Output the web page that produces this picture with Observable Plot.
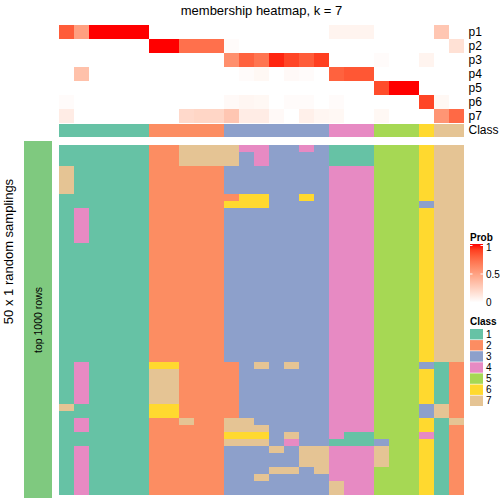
<!DOCTYPE html>
<html><head><meta charset="utf-8">
<script src="https://cdn.jsdelivr.net/npm/d3@7"></script>
<script src="https://cdn.jsdelivr.net/npm/@observablehq/plot@0.6"></script>
<style>
body{margin:0;background:#fff;font-family:"Liberation Sans",Arial,Helvetica,sans-serif;}
#wrap{position:relative;width:504px;height:504px;overflow:hidden;background:#fff;}
#wrap > svg{position:absolute;left:0;top:0;}
</style></head><body><div id="wrap"></div>
<script>
const title = "membership heatmap, k = 7";
const rowTitle = "50 x 1 random samplings";
const sideLabel = "top 1000 rows";
const probRows = ["p1","p2","p3","p4","p5","p6","p7"];
const classes = ["1","2","3","4","5","6","7"];
const classColors = ["#66C2A5","#FC8D62","#8DA0CB","#E78AC3","#A6D854","#FFD92F","#E5C494"];
const sideColor = "#7FC97F";
const colClass = "111111222223333333444555677";
const p1 = [0.8,0.5,1,1,1,1, 0,0,0,0,0, 0,0,0,0,0,0,0, 0.06,0.06,0.06, 0,0,0, 0, 0.3,0];
const p2 = [0,0,0,0,0,0, 1,1,0.72,0.72,0.72, 0.02,0,0,0,0,0,0, 0,0,0, 0,0,0, 0, 0,0.16];
const p3 = [0,0,0,0,0,0, 0,0,0,0,0, 0.58,0.78,0.7,0.96,0.88,0.8,0.9, 0,0,0, 0.02,0,0, 0.06, 0,0];
const p4 = [0,0.33,0,0,0,0, 0,0,0,0,0, 0,0.02,0.04,0,0.03,0.02,0, 0.78,0.82,0.82, 0,0,0, 0, 0,0];
const p5 = [0,0,0,0,0,0, 0,0,0,0,0, 0,0,0,0,0,0,0, 0,0,0, 0.86,1,1, 0, 0,0];
const p6 = [0.02,0,0,0,0,0, 0,0,0,0,0, 0.03,0.05,0.04,0,0.02,0.02,0, 0.02,0,0, 0,0,0, 0.88, 0.04,0];
const p7 = [0.1,0,0,0,0,0, 0,0,0.2,0.22,0.22, 0.3,0.1,0.1,0.03,0,0.08,0.05, 0.04,0,0, 0.04,0,0, 0, 0.55,0.75];
const probValues = [p1,p2,p3,p4,p5,p6,p7];
const samplingRows = [
"111111227777443343111555677",
"111111227777343333111555677",
"111111227777343333111555677",
"711111222223333333444555677",
"711111222223333333444555677",
"711111222223333333444555677",
"711111222223333333444555677",
"111111222222663363444555677",
"111111222226663333444555377",
"141111222223333333444555677",
"141111222223333333444555677",
"141111222223333333444555677",
"141111222223333333444555677",
"141111222223333333444555677",
"111111222223333333444555677",
"111111222223333333444555677",
"111111222223333333444555677",
"111111222223333333444555677",
"111111222223333333444555677",
"111111222223333333444555677",
"111111222223333333444555677",
"111111222223333333444555677",
"111111222223333333444555677",
"111111222223333333444555677",
"111111222223333333444555677",
"111111222223333333444555677",
"111111222223333333444555677",
"111111222223333333444555677",
"111111222223333333444555677",
"111111222223333333444555677",
"111111222223333333444555677",
"141111662222373733444555312",
"141111772222333333444555612",
"141111772222333333444555612",
"141111772222333333444555612",
"141111772222333333444555612",
"141111772222333333444555612",
"711111662222333333444555372",
"111111662222333333444555372",
"141111227227733333444555617",
"141111222227773333444555612",
"111111222226663733411555412",
"111111222227773433111355612",
"141111222223337377444755612",
"141111222223333377444755612",
"141111222223333377444755612",
"141111222223337737444555612",
"141111222223373333444555612",
"141111222223333333744555612",
"141111222223333333744555612"
];

const FONT = '"Liberation Sans", Arial, Helvetica, sans-serif';
const wrap = document.getElementById("wrap");
const cols = d3.range(colClass.length);
const layerStyle = {background:"transparent", fontFamily: FONT, overflow:"visible"};

// top membership heatmap + class annotation
const probData = [];
probValues.forEach((vals,i)=>vals.forEach((v,j)=>probData.push({row:probRows[i], col:j, v})));
const classData = cols.map(j=>({col:j, row:"Class", cls:colClass[j]}));
const plotA = Plot.plot({
  width:504, height:504, marginTop:0, marginBottom:0, marginLeft:0, marginRight:39,
  style: layerStyle,
  x:{type:"band", domain:cols, range:[58,465], padding:0, axis:null},
  y:{type:"band", domain:[...probRows,"Class"], range:[24,138], padding:0, axis:null},
  color:{type:"linear", domain:[0,1], range:["white","red"], interpolate:d3.interpolateLab},
  marks:[
    Plot.cell(probData,{x:"col", y:"row", fill:"v", shapeRendering:"crispEdges"}),
    ...classes.map((c,k)=>Plot.cell(classData.filter(d=>d.cls===c),{x:"col", y:"row", fill:classColors[k], insetTop:1.2, shapeRendering:"crispEdges"})),
    Plot.axisY({anchor:"right", tickSize:0, tickPadding:3, fontSize:12, fill:"#000", label:null})
  ]
});
wrap.appendChild(plotA);

// main sampling heatmap
const mainData = [];
samplingRows.forEach((s,i)=>[...s].forEach((c,j)=>mainData.push({row:i, col:j, cls:c})));
const plotB = Plot.plot({
  width:504, height:504, margin:0, style: layerStyle,
  x:{type:"band", domain:cols, range:[58,465], padding:0, axis:null},
  y:{type:"band", domain:d3.range(samplingRows.length), range:[141,498], padding:0, axis:null},
  marks: classes.map((c,k)=>Plot.cell(mainData.filter(d=>d.cls===c),{x:"col", y:"row", fill:classColors[k], shapeRendering:"crispEdges"}))
});
wrap.appendChild(plotB);

// left annotation bar
const plotC = Plot.plot({
  width:504, height:504, margin:0, style: layerStyle,
  x:{type:"band", domain:[sideLabel], range:[24,52], padding:0, axis:null},
  y:{type:"band", domain:[sideLabel], range:[141,498], padding:0, axis:null},
  marks:[
    Plot.cell([sideLabel],{x:d=>d, y:d=>d, fill:sideColor}),
    Plot.text([sideLabel],{x:d=>d, y:d=>d, text:d=>d, rotate:-90, fontSize:10.5, fill:"#000"})
  ]
});
wrap.appendChild(plotC);

// titles and legends
const svg = d3.select(wrap).append("svg").attr("width",504).attr("height",504)
  .style("font-family", FONT);
svg.append("text").attr("x",261.5).attr("y",15).attr("text-anchor","middle")
  .attr("font-size",13).text(title);
svg.append("text").attr("transform","translate(13,251.5) rotate(-90)").attr("text-anchor","middle")
  .attr("font-size",13).text(rowTitle);

// Prob legend
const lx = 470, lw = 13;
svg.append("text").attr("x",lx).attr("y",240.5).attr("font-size",10).attr("font-weight","bold").text("Prob");
const gy = d3.scaleLinear().domain([0,1]).range([302.5,245.5]);
const defs = svg.append("defs");
const grad = defs.append("linearGradient").attr("id","probgrad").attr("x1",0).attr("x2",0).attr("y1",1).attr("y2",0);
const interp = d3.interpolateLab("white","red");
d3.range(0,1.0001,0.1).forEach(t=>grad.append("stop").attr("offset",t).attr("stop-color",interp(t)));
svg.append("rect").attr("x",lx).attr("y",gy(1)-1.5).attr("width",lw).attr("height",gy(0)-gy(1)+1.5).attr("fill","url(#probgrad)");
[0.5,1].forEach(v=>{
  svg.append("line").attr("x1",lx).attr("x2",lx+2.5).attr("y1",gy(v)).attr("y2",gy(v)).attr("stroke","white");
  svg.append("line").attr("x1",lx+lw-2.5).attr("x2",lx+lw).attr("y1",gy(v)).attr("y2",gy(v)).attr("stroke","white");
});
[[1,"1"],[0.5,"0.5"],[0,"0"]].forEach(([v,l])=>{
  svg.append("text").attr("x",486).attr("y",gy(v)+ (v===1?2:0)).attr("dy","0.35em").attr("font-size",10).text(l);
});

// Class legend
svg.append("text").attr("x",lx).attr("y",325).attr("font-size",10).attr("font-weight","bold").text("Class");
const sy = d3.scaleBand().domain(classes).range([329,406]).paddingInner(0.06);
classes.forEach((c,k)=>{
  svg.append("rect").attr("x",lx).attr("y",sy(c)).attr("width",lw).attr("height",sy.bandwidth()).attr("fill",classColors[k]);
  svg.append("text").attr("x",486).attr("y",sy(c)+sy.bandwidth()/2).attr("dy","0.35em").attr("font-size",10).text(c);
});
</script></body></html>
